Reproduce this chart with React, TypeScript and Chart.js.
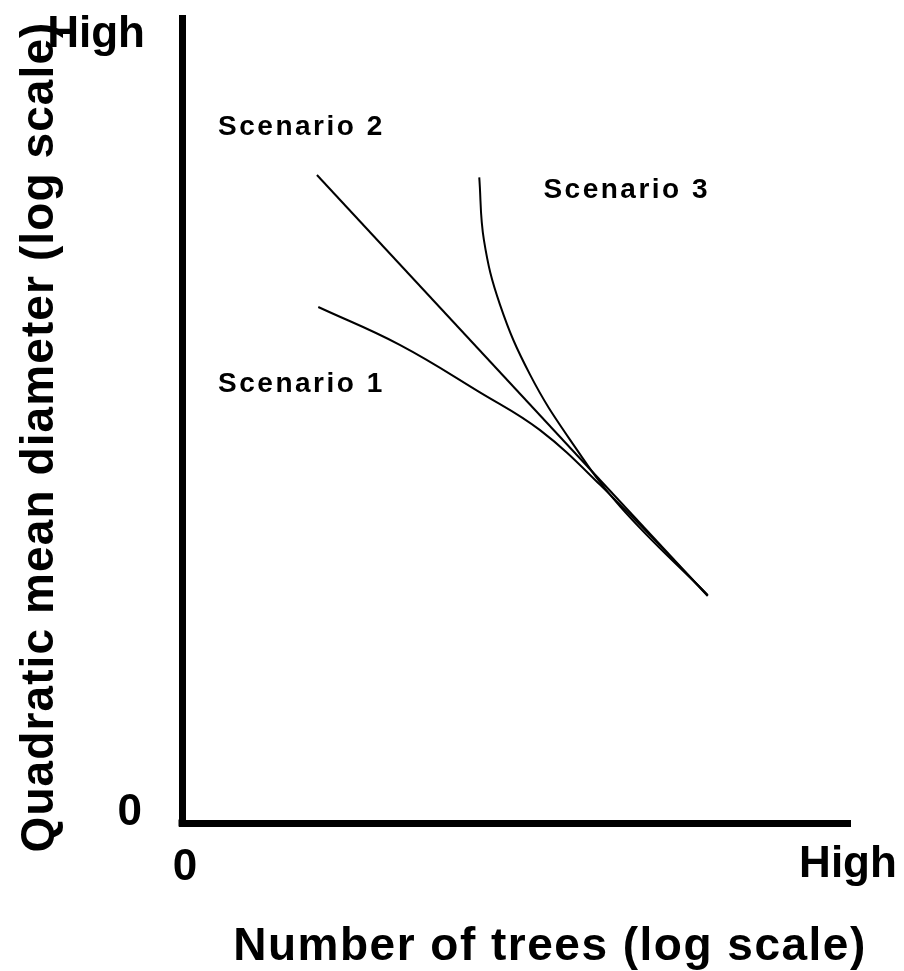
import React, { useEffect, useRef } from "react";
import { Chart, registerables } from "chart.js";

Chart.register(...registerables);

// Axis range (relative units; both axes are "log scale" schematics from 0 to High)
const axisMin = 0;
const axisMax = 100;
const xTickLabels = ["0", "High"];
const yTickLabels = ["0", "High"];
const xTitle = "Number of trees (log scale)";
const yTitle = "Quadratic mean diameter (log scale)";

// Scenario 1: gently curving line
const scenario1X = [20.4, 32.6, 44.6, 53.6, 62.6, 78.7];
const scenario1Y = [64.1, 59.4, 53.5, 48.8, 42.0, 28.3];

// Scenario 2: straight line
const scenario2X = [20.2, 78.7];
const scenario2Y = [80.5, 28.2];

// Scenario 3: steep curve converging at the end
const scenario3X = [44.5, 45.2, 47.6, 52.1, 58.1, 65.6, 78.7];
const scenario3Y = [80.2, 72.4, 64.4, 55.7, 47.6, 39.3, 28.3];

// Annotation labels anchored in data units
const labelNames = ["Scenario 2", "Scenario 3", "Scenario 1"];
const labelX = [5.4, 54.1, 5.4];
const labelY = [85.5, 77.6, 53.6];

const toPoints = (xs: number[], ys: number[]) => xs.map((x, i) => ({ x, y: ys[i] }));

const textPlugin = {
  id: "schematicText",
  afterDraw(chart: any) {
    const { ctx, scales } = chart;
    const xs = scales.x;
    const ys = scales.y;
    const x0 = xs.getPixelForValue(axisMin);
    const x1 = xs.getPixelForValue(axisMax);
    const y0 = ys.getPixelForValue(axisMin);
    const y1 = ys.getPixelForValue(axisMax);
    ctx.save();
    ctx.fillStyle = "#000";
    ctx.font = "bold 44px 'Liberation Sans', Arial, sans-serif";
    ctx.textBaseline = "alphabetic";
    // y ticks
    ctx.textAlign = "right";
    ctx.fillText(yTickLabels[0], x0 - 40, y0 + 2);
    ctx.fillText(yTickLabels[1], x0 - 37, y1 + 29);
    // x ticks
    ctx.textAlign = "center";
    ctx.fillText(xTickLabels[0], x0 + 3, y0 + 57);
    ctx.fillText(xTickLabels[1], x1 - 2, y0 + 54);

    // axis titles
    ctx.font = "bold 46px 'Liberation Sans', Arial, sans-serif";
    (ctx as any).letterSpacing = "1.5px";
    ctx.textAlign = "center";
    ctx.fillText(xTitle, 550, y0 + 137);
    ctx.save();
    ctx.translate(53, 437);
    ctx.rotate(-Math.PI / 2);
    (ctx as any).letterSpacing = "1.1px";
    ctx.fillText(yTitle, 0, 0);
    ctx.restore();

    // scenario labels
    ctx.font = "bold 28px 'Liberation Sans', Arial, sans-serif";
    (ctx as any).letterSpacing = "2.5px";
    ctx.textAlign = "left";
    labelNames.forEach((name, i) => {
      ctx.fillText(name, xs.getPixelForValue(labelX[i]), ys.getPixelForValue(labelY[i]));
    });
    ctx.restore();
  },
};

const cornerPlugin = {
  id: "axisCorner",
  afterDraw(chart: any) {
    const { ctx, chartArea } = chart;
    ctx.save();
    ctx.fillStyle = "#000";
    ctx.fillRect(chartArea.left - 3.5, chartArea.bottom - 3.5, 7, 7);
    ctx.restore();
  },
};

export default function App() {
  const canvasRef = useRef<HTMLCanvasElement | null>(null);

  useEffect(() => {
    if (!canvasRef.current) return;
    const lineStyle = {
      borderColor: "#000",
      borderWidth: 2,
      pointRadius: 0,
      showLine: true,
      fill: false,
    };
    const chart = new Chart(canvasRef.current, {
      type: "scatter",
      data: {
        datasets: [
          { label: "Scenario 1", data: toPoints(scenario1X, scenario1Y), tension: 0.4, ...lineStyle },
          { label: "Scenario 2", data: toPoints(scenario2X, scenario2Y), tension: 0, ...lineStyle },
          { label: "Scenario 3", data: toPoints(scenario3X, scenario3Y), tension: 0.4, ...lineStyle },
        ],
      },
      options: {
        responsive: false,
        animation: false,
        events: [],
        layout: { padding: { left: 182, top: 18, right: 54, bottom: 148 } },
        plugins: { legend: { display: false }, tooltip: { enabled: false }, title: { display: false } },
        scales: {
          x: {
            type: "linear",
            min: axisMin,
            max: axisMax,
            grid: { display: false, drawTicks: false },
            ticks: { display: false },
            border: { display: true, color: "#000", width: 7 },
            afterFit: (s: any) => { s.height = 0; },
          },
          y: {
            type: "linear",
            min: axisMin,
            max: axisMax,
            grid: { display: false, drawTicks: false },
            ticks: { display: false },
            border: { display: true, color: "#000", width: 7 },
            afterFit: (s: any) => { s.width = 0; },
          },
        },
      },
      plugins: [textPlugin, cornerPlugin],
    } as any);
    return () => chart.destroy();
  }, []);

  return (
    <div style={{ position: "absolute", left: 0, top: 0, width: 904, height: 971, background: "#fff" }}>
      <canvas ref={canvasRef} width={904} height={971} style={{ display: "block" }} />
    </div>
  );
}
